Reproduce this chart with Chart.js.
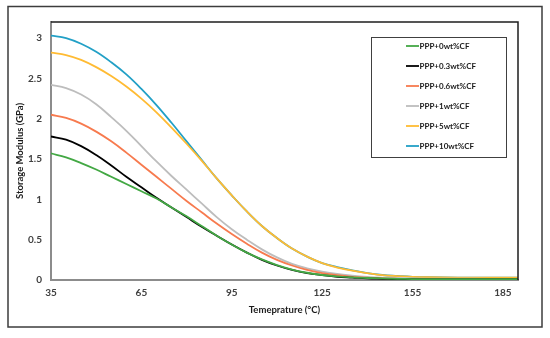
<!DOCTYPE html>
<html>
<head>
<meta charset="utf-8">
<script src="https://cdn.jsdelivr.net/npm/chart.js@4.4.0/dist/chart.umd.min.js"></script>
<style>
  html, body { margin: 0; padding: 0; background: #fff; }
  #wrap { width: 550px; height: 338px; }
</style>
</head>
<body>
<div id="wrap"><canvas id="chart" width="550" height="338"></canvas></div>
<script>
// --- Data ---
const temps = [35, 40, 45, 50, 55, 60, 65, 70, 75, 80, 85, 90, 95, 100, 105, 110, 115, 120, 125, 130, 135, 140, 145, 150, 155, 160, 170, 180, 190];

const seriesNames = ['PPP+0wt%CF', 'PPP+0.3wt%CF', 'PPP+0.6wt%CF', 'PPP+1wt%CF', 'PPP+5wt%CF', 'PPP+10wt%CF'];

const cf0 = [1.57, 1.52, 1.45, 1.37, 1.28, 1.19, 1.10, 1.01, 0.90, 0.79, 0.67, 0.55, 0.44, 0.34, 0.255, 0.185, 0.13, 0.09, 0.062, 0.045, 0.032, 0.025, 0.02, 0.015, 0.012, 0.01, 0.01, 0.01, 0.01];
const cf03 = [1.78, 1.74, 1.66, 1.55, 1.42, 1.28, 1.15, 1.02, 0.90, 0.78, 0.66, 0.55, 0.44, 0.34, 0.25, 0.18, 0.125, 0.085, 0.06, 0.04, 0.03, 0.02, 0.015, 0.01, 0.01, 0.01, 0.01, 0.01, 0.01];
const cf06 = [2.05, 2.01, 1.94, 1.84, 1.72, 1.58, 1.43, 1.28, 1.13, 0.98, 0.84, 0.70, 0.57, 0.45, 0.34, 0.25, 0.18, 0.125, 0.085, 0.06, 0.04, 0.03, 0.02, 0.015, 0.012, 0.01, 0.01, 0.01, 0.01];
const cf1 = [2.42, 2.38, 2.30, 2.18, 2.02, 1.85, 1.66, 1.47, 1.29, 1.12, 0.95, 0.78, 0.63, 0.50, 0.38, 0.28, 0.20, 0.145, 0.105, 0.075, 0.055, 0.04, 0.03, 0.025, 0.02, 0.018, 0.016, 0.015, 0.015];
const cf5 = [2.82, 2.79, 2.73, 2.64, 2.53, 2.40, 2.25, 2.08, 1.89, 1.69, 1.48, 1.26, 1.05, 0.85, 0.67, 0.52, 0.39, 0.29, 0.21, 0.155, 0.115, 0.085, 0.06, 0.048, 0.04, 0.035, 0.03, 0.03, 0.03];
const cf10 = [3.03, 3.00, 2.93, 2.83, 2.70, 2.55, 2.37, 2.17, 1.95, 1.72, 1.49, 1.26, 1.05, 0.85, 0.67, 0.52, 0.39, 0.29, 0.21, 0.16, 0.12, 0.085, 0.062, 0.05, 0.04, 0.035, 0.03, 0.03, 0.03];

const xTicks = [35, 65, 95, 125, 155, 185];
const yTicks = [0, 0.5, 1, 1.5, 2, 2.5, 3];

const colors = ['#43a844', '#000000', '#f77a4e', '#bdbdbd', '#ffbb33', '#22a0c6'];
const allSeries = [cf0, cf03, cf06, cf1, cf5, cf10];

const FONT = 'Lato, "Open Sans", sans-serif';

// --- Frame, plot border and boxed legend ---
const framePlugin = {
    id: 'frame',
    beforeDraw(chart) {
        const ctx = chart.ctx;
        ctx.save();
        ctx.fillStyle = '#ffffff';
        ctx.fillRect(0, 0, chart.width, chart.height);
        ctx.restore();
    },
    afterDraw(chart) {
        const { ctx, chartArea: a } = chart;
        ctx.save();
        // outer frame
        ctx.strokeStyle = '#3c3c3c';
        ctx.lineWidth = 1.5;
        ctx.strokeRect(8, 6.5, 534, 320.5);

        // top and right edge of the plot
        ctx.strokeStyle = '#1e1e1e';
        ctx.lineWidth = 1.5;
        ctx.beginPath();
        ctx.moveTo(a.left, a.top);
        ctx.lineTo(a.right, a.top);
        ctx.lineTo(a.right, a.bottom);
        ctx.stroke();

        // legend box
        const bx = 371, by = 37, bw = 135, bh = 120;
        ctx.fillStyle = '#ffffff';
        ctx.fillRect(bx, by, bw, bh);
        ctx.strokeStyle = '#404040';
        ctx.lineWidth = 1;
        ctx.strokeRect(bx + 0.5, by + 0.5, bw, bh);

        ctx.font = 'bold 8px ' + FONT;
        ctx.textBaseline = 'middle';
        ctx.textAlign = 'left';
        chart.data.datasets.forEach((ds, i) => {
            const y = 46 + i * 20;
            ctx.strokeStyle = ds.borderColor;
            ctx.lineWidth = 1.8;
            ctx.beginPath();
            ctx.moveTo(406, y);
            ctx.lineTo(419, y);
            ctx.stroke();
            ctx.fillStyle = '#1a1a1a';
            ctx.fillText(ds.label, 419.5, y);
        });
        ctx.restore();
    }
};

const ctx = document.getElementById('chart').getContext('2d');
new Chart(ctx, {
    type: 'line',
    data: {
        datasets: allSeries.map((vals, i) => ({
            label: seriesNames[i],
            data: temps.map((t, j) => ({ x: t, y: vals[j] })),
            borderColor: colors[i],
            backgroundColor: colors[i],
            borderWidth: 1.8,
            pointRadius: 0,
            tension: 0.4,
            fill: false
        }))
    },
    options: {
        responsive: false,
        animation: false,
        layout: { padding: { top: 22, right: 32, left: 0, bottom: 0 } },
        plugins: {
            legend: { display: false },
            tooltip: { enabled: false }
        },
        scales: {
            x: {
                type: 'linear',
                min: 35,
                max: 190,
                afterBuildTicks: (scale) => { scale.ticks = xTicks.map(v => ({ value: v })); },
                afterFit: (scale) => { scale.height = 58; },
                grid: { display: false, drawTicks: false },
                border: { display: true, color: '#8c8c8c', width: 2 },
                ticks: {
                    padding: 7,
                    color: '#404040',
                    font: { family: FONT, size: 10, weight: 'bold' },
                    maxRotation: 0,
                    callback: (v) => String(v)
                },
                title: {
                    display: true,
                    text: 'Temeprature (°C)',
                    color: '#1a1a1a',
                    font: { family: FONT, size: 9.5, weight: 'bold' },
                    padding: { top: 0, bottom: 22 }
                }
            },
            y: {
                min: 0,
                max: 3.2,
                afterBuildTicks: (scale) => { scale.ticks = yTicks.map(v => ({ value: v })); },
                afterFit: (scale) => { scale.width = 51; },
                grid: { display: false, drawTicks: false },
                border: { display: true, color: '#8c8c8c', width: 2 },
                ticks: {
                    padding: 9,
                    color: '#404040',
                    font: { family: FONT, size: 10, weight: 'bold' },
                    callback: (v) => String(v)
                },
                title: {
                    display: true,
                    text: 'Storage Modulus (GPa)',
                    color: '#1a1a1a',
                    font: { family: FONT, size: 9.5, weight: 'bold' },
                    padding: { top: 14, bottom: 0 }
                }
            }
        }
    },
    plugins: [framePlugin]
});
</script>
</body>
</html>
